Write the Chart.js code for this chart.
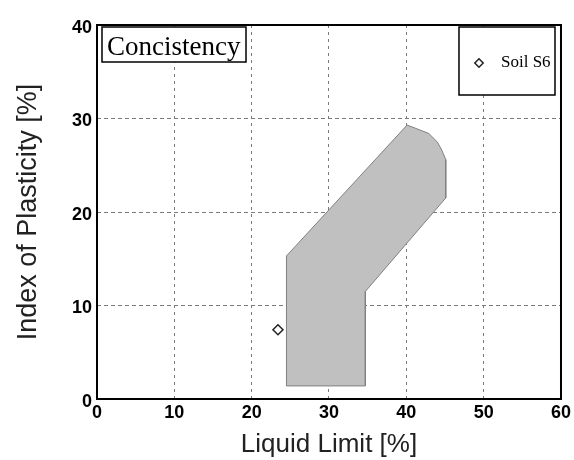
<!DOCTYPE html>
<html><head><meta charset="utf-8">
<script src="https://cdn.jsdelivr.net/npm/chart.js@4.4.1/dist/chart.umd.min.js"></script>
<style>html,body{margin:0;padding:0;background:#fff}#wrap{width:574px;height:460px;position:relative}</style>
</head><body><div id="wrap"><canvas id="c"></canvas></div>
<script>
// Data
const regionLL = [24.5, 24.5, 40.1, 41.2, 42.9, 44.0, 44.6, 45.1, 45.1, 34.7, 34.7, 24.5];
const regionPI = [1.4, 15.3, 29.3, 28.95, 28.4, 27.5, 26.6, 25.6, 21.5, 11.5, 1.4, 1.4];
const soilNames = ['Soil S6'];
const soilLL = [23.4];
const soilPI = [7.4];
const xTickValues = [0, 10, 20, 30, 40, 50, 60];
const yTickValues = [0, 10, 20, 30, 40];
const chartTitle = 'Concistency';
const xTitle = 'Liquid Limit [%]';
const yTitle = 'Index of Plasticity [%]';

const regionData = regionLL.map((x, i) => ({x: x, y: regionPI[i]}));
const soilData = soilLL.map((x, i) => ({x: x, y: soilPI[i]}));

const boxes = {
  id: 'boxes',
  afterDraw(chart) {
    const ctx = chart.ctx, a = chart.chartArea;
    ctx.save();
    ctx.setLineDash([]);
    ctx.strokeStyle = '#000';
    ctx.lineWidth = 2;
    ctx.strokeRect(a.left, a.top, a.right - a.left, a.bottom - a.top);
    // title box
    const tx = a.left + 5, ty = a.top + 2;
    ctx.fillStyle = '#fff';
    ctx.fillRect(tx, ty, 144, 35);
    ctx.lineWidth = 1.5;
    ctx.strokeRect(tx, ty, 144, 35);
    ctx.fillStyle = '#000';
    ctx.font = '27px "Liberation Serif"';
    ctx.textBaseline = 'alphabetic';
    ctx.textAlign = 'left';
    ctx.fillText(chartTitle, tx + 5, ty + 28);
    // legend box
    const lx = a.right - 102, ly = a.top + 2, lw = 96, lh = 68;
    ctx.fillStyle = '#fff';
    ctx.fillRect(lx, ly, lw, lh);
    ctx.strokeRect(lx, ly, lw, lh);
    const ds = chart.data.datasets[1];
    // marker
    const mx = lx + 20, my = ly + 36, r = 4.2;
    ctx.beginPath();
    ctx.moveTo(mx, my - r); ctx.lineTo(mx + r, my); ctx.lineTo(mx, my + r); ctx.lineTo(mx - r, my); ctx.closePath();
    ctx.fillStyle = '#fff'; ctx.fill();
    ctx.lineWidth = 1.5; ctx.strokeStyle = '#222'; ctx.stroke();
    ctx.fillStyle = '#000';
    ctx.font = '17px "Liberation Serif"';
    ctx.fillText(ds.label, lx + 42, ly + 40);
    ctx.restore();
  }
};

new Chart(document.getElementById('c'), {
  type: 'line',
  data: {
    datasets: [
      {
        label: 'region',
        data: regionData,
        borderColor: '#808080',
        borderWidth: 1,
        backgroundColor: '#c0c0c0',
        fill: 'shape',
        pointRadius: 0,
        tension: 0
      },
      {
        label: soilNames[0],
        data: soilData,
        showLine: false,
        pointStyle: 'rectRot',
        pointRadius: 5,
        pointBorderWidth: 1.5,
        pointBorderColor: '#222',
        pointBackgroundColor: '#fff'
      }
    ]
  },
  options: {
    responsive: true,
    maintainAspectRatio: false,
    animation: false,
    layout: {padding: {top: 25, right: 11, left: 0, bottom: 0}},
    plugins: {legend: {display: false}, tooltip: {enabled: false}},
    scales: {
      x: {
        type: 'linear', min: 0, max: 60,
        afterBuildTicks: s => { s.ticks = xTickValues.map(v => ({value: v})); },
        afterFit: s => { s.height = 61; },
        grid: {color: '#7a7a7a', lineWidth: 1, drawTicks: false},
        border: {display: false, dash: [3, 4]},
        ticks: {color: '#000', padding: 3, font: {family: '"Liberation Sans"', size: 18, weight: 'bold'}},
        title: {display: true, text: xTitle, color: '#222', padding: 0, font: {family: '"Liberation Sans"', size: 26}}
      },
      y: {
        type: 'linear', min: 0, max: 40,
        afterBuildTicks: s => { s.ticks = yTickValues.map(v => ({value: v})); },
        afterFit: s => { s.width = 97; },
        grid: {color: '#7a7a7a', lineWidth: 1, drawTicks: false},
        border: {display: false, dash: [4, 3]},
        ticks: {color: '#000', padding: 5, labelOffset: 3, font: {family: '"Liberation Sans"', size: 18, weight: 'bold'}},
        title: {display: true, text: yTitle, color: '#222', padding: {top: 12, bottom: 12}, font: {family: '"Liberation Sans"', size: 27}}
      }
    }
  },
  plugins: [boxes]
});
</script>
</body></html>
